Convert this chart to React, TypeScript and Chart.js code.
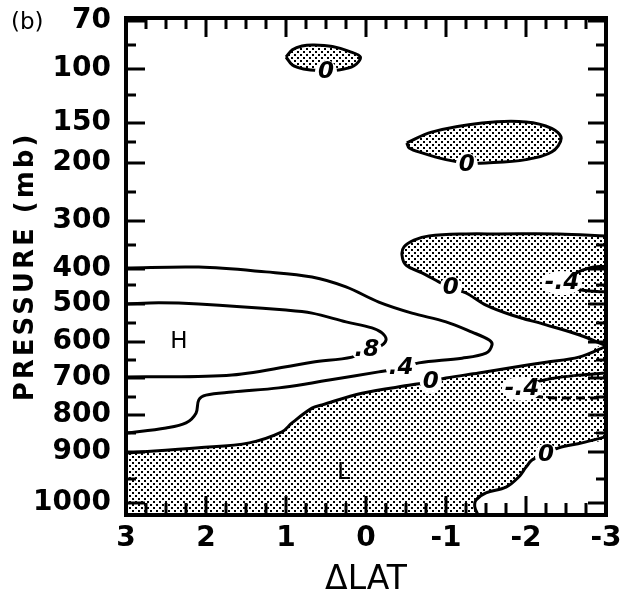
import React, { useEffect, useRef } from 'react';
import { Chart, registerables, LinearScale } from 'chart.js';

// ---------------- axis definitions ----------------
const LAT_TICKS = [3, 2, 1, 0, -1, -2, -3];
const LAT_MINOR_STEP = 0.25;
const P_LABELS = [70, 100, 150, 200, 300, 400, 500, 600, 700, 800, 900, 1000];
const P_MINOR = [85, 125, 175, 250, 350, 450, 550, 650, 750, 850, 950];
const P_TOP = 68;
const P_BOTTOM = 1025;

// The original diagram uses a non-uniform pressure axis:
// pressure stops and their relative depth below the top frame (0 = top, 497 = bottom)
const AXIS_P = [68, 70, 85, 100, 125, 150, 175, 200, 250, 300, 350, 400, 450, 500, 550, 600, 650, 700, 750, 800, 850, 900, 950, 1000, 1025];
const AXIS_DEPTH = [0, 3, 27, 51, 77, 105, 124, 145, 174, 203, 227, 251, 267, 286, 305, 324, 342, 360, 379, 397, 415, 434, 461, 485, 497];

// ---------------- contour data (ΔLAT, pressure mb) ----------------
// 0 contour: small negative cell near 100 mb
const CELL100_LAT = [1.0, 0.92, 0.8, 0.65, 0.42, 0.21, 0.07, 0.15, 0.34, 0.59, 0.78, 0.92, 1.0];
const CELL100_P = [92.5, 88, 85.6, 85, 86, 89, 92.5, 98, 101, 101.5, 100, 97.5, 92.5];

// 0 contour: negative cell near 175 mb
const CELL175_LAT = [-0.51, -0.82, -1.45, -2.0, -2.32, -2.44, -2.32, -2.0, -1.5, -1.26, -1.0, -0.7, -0.54, -0.51];
const CELL175_P = [176, 162, 150, 149, 157, 170, 187, 196, 200, 200, 196, 188, 182, 176];

// 0 contour: upper negative region (300-600 mb, right side)
const UPPER0_LAT = [-3, -2.41, -1.66, -1.25, -0.79, -0.6, -0.475, -0.45, -0.5, -0.7, -0.91, -1.06, -1.25, -1.5, -1.82, -2.25, -2.66, -3];
const UPPER0_P = [331, 327, 327, 327, 331, 340, 354, 371, 392, 412, 440, 458, 471, 503, 529, 555, 581, 610];

// 0 contour: lower negative region, top boundary (left edge -> right edge)
const LOWER0_LAT = [3, 2.09, 1.46, 1.05, 0.925, 0.675, 0.55, 0.05, -0.575, -0.81, -1.0, -1.41, -1.79, -2.25, -2.66, -3];
const LOWER0_P = [902, 889, 876, 847, 822, 781, 772, 740, 718, 710, 700, 686, 672, 656, 642, 612];

// 0 contour: lower negative region, right boundary (right edge -> bottom)
const BOTTOM0_LAT = [-3, -2.7, -2.41, -2.25, -2.075, -2.0, -1.91, -1.75, -1.5, -1.375, -1.36, -1.4];
const BOTTOM0_P = [860, 876, 889, 902, 915, 928, 946, 967, 979, 994, 1008, 1025];

// .4 contour
const POS04_LAT = [3, 2.09, 1.25, 0.675, 0.25, -0.16, -0.575, -1.0, -1.325, -1.54, -1.575, -1.5, -1.2, -0.66, -0.44, -0.16, 0.46, 0.675, 1.09, 1.675, 2.0, 2.09, 2.125, 2.25, 2.5, 3];
const POS04_P = [398, 396, 409, 425, 455, 495, 524, 547, 574, 595, 608, 631, 645, 658, 672, 683, 705, 713, 726, 737, 745, 758, 795, 822, 836, 850];

// .8 contour
const POS08_LAT = [3, 2.59, 2.09, 1.0, 0.675, 0.25, -0.075, -0.2, -0.25, -0.16, -0.01, 0.175, 0.675, 1.675, 3];
const POS08_P = [500, 497, 500, 516, 524, 547, 563, 576, 595, 614, 622, 642, 656, 692, 697];

// -.4 contours
const NEG04A_LAT = [-3, -2.79, -2.6, -2.45, -2.62, -2.79, -3];
const NEG04A_P = [394, 398, 416, 444, 460, 466, 468];
const NEG04B_LAT = [-3, -2.66, -2.3, -2.1];
const NEG04B_P = [686, 692, 702, 712];
const NEG04C_LAT = [-2.1, -2.3, -2.54, -3];
const NEG04C_P = [748, 752, 753, 753];

// contour labels
const CLABEL_TEXT = ['0', '0', '0', '.8', '.4', '0', '-.4', '-.4', '0'];
const CLABEL_LAT = [0.5, -1.26, -1.06, -0.01, -0.44, -0.81, -2.45, -1.95, -2.25];
const CLABEL_P = [103, 203, 458, 622, 672, 710, 444, 728, 906];

// extrema marks
const MARK_TEXT = ['H', 'L'];
const MARK_LAT = [2.34, 0.28];
const MARK_P = [600, 939];

// ---------------- pressure scale ----------------
const DEPTH_MAX = AXIS_DEPTH[AXIS_DEPTH.length - 1];
function pToFrac(p: number): number {
  if (p <= AXIS_P[0]) return 0;
  for (let i = 1; i < AXIS_P.length; i++) {
    if (p <= AXIS_P[i]) {
      const t = (p - AXIS_P[i - 1]) / (AXIS_P[i] - AXIS_P[i - 1]);
      return (AXIS_DEPTH[i - 1] + t * (AXIS_DEPTH[i] - AXIS_DEPTH[i - 1])) / DEPTH_MAX;
    }
  }
  return 1;
}
function fracToP(f: number): number {
  const d = f * DEPTH_MAX;
  if (d <= 0) return AXIS_P[0];
  for (let i = 1; i < AXIS_DEPTH.length; i++) {
    if (d <= AXIS_DEPTH[i]) {
      const t = (d - AXIS_DEPTH[i - 1]) / (AXIS_DEPTH[i] - AXIS_DEPTH[i - 1]);
      return AXIS_P[i - 1] + t * (AXIS_P[i] - AXIS_P[i - 1]);
    }
  }
  return AXIS_P[AXIS_P.length - 1];
}

class PressureScale extends LinearScale {
  static id = 'pressure';
  buildTicks() {
    return P_LABELS.map((v) => ({ value: v }));
  }
  getPixelForValue(value: number) {
    return this.getPixelForDecimal(pToFrac(value));
  }
  getValueForPixel(pixel: number) {
    return fracToP(this.getDecimalForPixel(pixel));
  }
  drawTitle() {
    const ctx: any = this.ctx;
    ctx.save();
    ctx.letterSpacing = '3px';
    super.drawTitle();
    ctx.restore();
  }
}

Chart.register(...registerables, PressureScale);

const pts = (lat: number[], p: number[]) => lat.map((x, i) => ({ x, y: p[i] }));

const FONT = '"DejaVu Sans", "Liberation Sans", sans-serif';

function makePattern(ctx: CanvasRenderingContext2D) {
  const c = document.createElement('canvas');
  c.width = 6;
  c.height = 6;
  const g = c.getContext('2d')!;
  g.fillStyle = '#ffffff';
  g.fillRect(0, 0, 6, 6);
  g.fillStyle = '#000000';
  g.fillRect(0, 0, 2, 2);
  g.fillRect(3, 3, 2, 2);
  return ctx.createPattern(c, 'repeat');
}

const labelPlugin = {
  id: 'contourLabels',
  afterDatasetsDraw(chart: any) {
    const { ctx, scales } = chart;
    const xs = scales.x;
    const ys = scales.y;
    ctx.save();
    ctx.textAlign = 'center';
    ctx.textBaseline = 'middle';
    ctx.font = `italic bold 23px ${FONT}`;
    CLABEL_TEXT.forEach((t, i) => {
      const px = xs.getPixelForValue(CLABEL_LAT[i]);
      const py = ys.getPixelForValue(CLABEL_P[i]);
      const w = ctx.measureText(t).width + 6;
      ctx.fillStyle = '#ffffff';
      ctx.beginPath();
      ctx.ellipse(px, py, w / 2, 12, 0, 0, Math.PI * 2);
      ctx.fill();
      ctx.fillStyle = '#000000';
      ctx.fillText(t, px, py);
    });
    ctx.font = `23px ${FONT}`;
    MARK_TEXT.forEach((t, i) => {
      ctx.fillStyle = '#000000';
      ctx.fillText(t, xs.getPixelForValue(MARK_LAT[i]), ys.getPixelForValue(MARK_P[i]));
    });
    ctx.restore();
  },
};

const framePlugin = {
  id: 'frameTicks',
  afterDatasetsDraw(chart: any) {
    const { ctx, chartArea: a, scales } = chart;
    const xs = scales.x;
    const ys = scales.y;
    ctx.save();
    ctx.strokeStyle = '#000000';
    ctx.lineWidth = 3;
    ctx.lineCap = 'butt';
    ctx.beginPath();
    const lo = Math.min(...LAT_TICKS);
    const hi = Math.max(...LAT_TICKS);
    for (let v = lo + LAT_MINOR_STEP; v < hi - 1e-6; v += LAT_MINOR_STEP) {
      const px = Math.round(xs.getPixelForValue(v));
      const major = Math.abs(v - Math.round(v)) < 1e-6;
      const len = major ? 19 : 11;
      ctx.moveTo(px, a.top);
      ctx.lineTo(px, a.top + len);
      ctx.moveTo(px, a.bottom);
      ctx.lineTo(px, a.bottom - (major ? 19 : 12));
    }
    P_LABELS.forEach((p) => {
      const py = Math.round(ys.getPixelForValue(p));
      ctx.moveTo(a.left, py);
      ctx.lineTo(a.left + 19, py);
      ctx.moveTo(a.right, py);
      ctx.lineTo(a.right - 18, py);
    });
    P_MINOR.forEach((p) => {
      const py = Math.round(ys.getPixelForValue(p));
      ctx.moveTo(a.left, py);
      ctx.lineTo(a.left + 10, py);
      ctx.moveTo(a.right, py);
      ctx.lineTo(a.right - 10, py);
    });
    ctx.stroke();
    ctx.lineWidth = 4;
    ctx.strokeRect(a.left, a.top, a.right - a.left, a.bottom - a.top);
    ctx.restore();
  },
  afterDraw(chart: any) {
    const { ctx } = chart;
    ctx.save();
    ctx.fillStyle = '#000000';
    ctx.font = `23px ${FONT}`;
    ctx.textAlign = 'left';
    ctx.textBaseline = 'middle';
    ctx.fillText('(b)', 11, 23);
    ctx.restore();
  },
};

export default function App() {
  const ref = useRef<HTMLCanvasElement>(null);

  useEffect(() => {
    const canvas = ref.current;
    if (!canvas) return;
    const ctx = canvas.getContext('2d')!;
    const pattern = makePattern(ctx);

    const line = {
      showLine: true,
      borderColor: '#000000',
      borderWidth: 3,
      tension: 0.35,
      pointRadius: 0,
      fill: false,
    };
    const shaded = { ...line, fill: 'shape', backgroundColor: pattern };

    const lowerPoly = [
      ...pts(LOWER0_LAT, LOWER0_P),
      ...pts(BOTTOM0_LAT, BOTTOM0_P),
      { x: Math.max(...LAT_TICKS), y: P_BOTTOM },
    ];

    const datasets: any[] = [
      { ...line, data: pts(POS04_LAT, POS04_P) },
      { ...line, data: pts(POS08_LAT, POS08_P) },
      { ...line, data: pts(NEG04A_LAT, NEG04A_P) },
      { ...line, data: pts(NEG04B_LAT, NEG04B_P) },
      { ...line, borderDash: [9, 5], data: pts(NEG04C_LAT, NEG04C_P) },
      { ...line, data: pts(LOWER0_LAT, LOWER0_P) },
      { ...line, data: pts(BOTTOM0_LAT, BOTTOM0_P) },
      { ...shaded, data: pts(CELL100_LAT, CELL100_P) },
      { ...shaded, data: pts(CELL175_LAT, CELL175_P) },
      { ...shaded, data: pts(UPPER0_LAT, UPPER0_P) },
      { ...shaded, borderWidth: 0, borderColor: 'rgba(0,0,0,0)', data: lowerPoly },
    ];

    const chart = new Chart(canvas, {
      type: 'scatter',
      data: { datasets },
      options: {
        animation: false,
        responsive: false,
        devicePixelRatio: 1,
        events: [],
        layout: { padding: { left: 0, top: 18, right: 25, bottom: 0 } },
        plugins: {
          legend: { display: false },
          tooltip: { enabled: false },
          filler: { drawTime: 'beforeDatasetsDraw' },
        },
        scales: {
          x: {
            type: 'linear',
            min: Math.min(...LAT_TICKS),
            max: Math.max(...LAT_TICKS),
            reverse: true,
            afterBuildTicks: (s: any) => {
              s.ticks = LAT_TICKS.map((v) => ({ value: v }));
            },
            afterFit: (s: any) => {
              s.height = 82;
              s.paddingLeft = 0;
              s.paddingRight = 0;
            },
            grid: { display: false, drawTicks: false },
            border: { display: false },
            ticks: {
              autoSkip: false,
              maxRotation: 0,
              padding: 7,
              color: '#000000',
              font: { family: FONT, size: 28, weight: 'bold' },
              callback: (v: any) => String(v),
            },
            title: {
              display: true,
              text: 'ΔLAT',
              color: '#000000',
              font: { family: FONT, size: 33, lineHeight: 1 },
              padding: { top: 0, bottom: 0 },
            },
          },
          y: {
            type: 'pressure',
            min: P_TOP,
            max: P_BOTTOM,
            reverse: true,
            afterFit: (s: any) => {
              s.width = 126;
              s.paddingTop = 0;
              s.paddingBottom = 0;
            },
            grid: { display: false, drawTicks: false },
            border: { display: false },
            ticks: {
              autoSkip: false,
              padding: 15,
              color: '#000000',
              font: { family: FONT, size: 28, weight: 'bold' },
              callback: (v: any) => String(v),
            },
            title: {
              display: true,
              text: 'PRESSURE (mb)',
              color: '#000000',
              font: { family: FONT, size: 26, weight: 'bold', lineHeight: 1.2 },
              padding: { top: 11, bottom: 0 },
            },
          },
        } as any,
      },
      plugins: [labelPlugin, framePlugin],
    } as any);

    return () => chart.destroy();
  }, []);

  return (
    <canvas
      ref={ref}
      width={631}
      height={597}
      style={{ position: 'absolute', left: 0, top: 0, width: 631, height: 597 }}
    />
  );
}
